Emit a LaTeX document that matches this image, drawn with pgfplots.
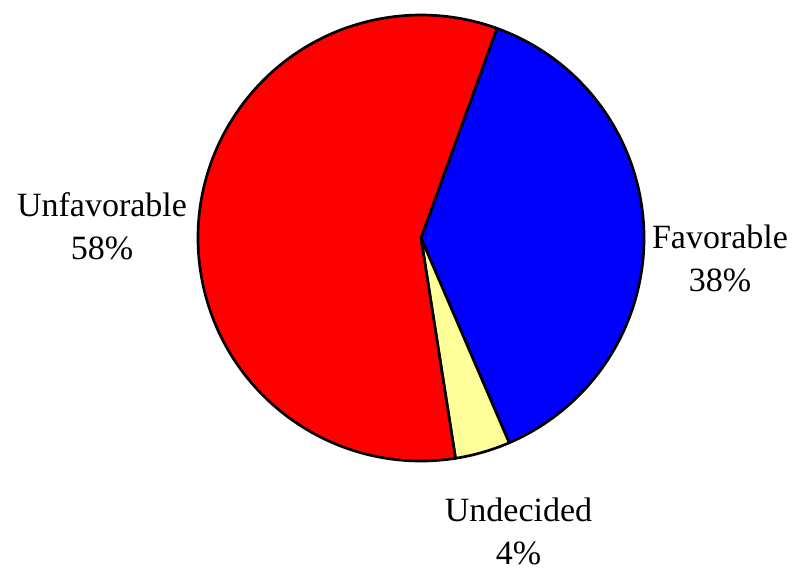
\documentclass[border=0pt]{standalone}
\usepackage{pgfplots}
\usepackage{pgfplotstable}
\pgfplotsset{compat=1.18}
\usepackage{fontspec}
\setmainfont{Liberation Serif}

\pgfplotstableread{
label value
Favorable 38
Undecided 4
Unfavorable 58
}\piedata

\pgfplotstablegetelem{0}{value}\of\piedata \let\vA\pgfplotsretval
\pgfplotstablegetelem{1}{value}\of\piedata \let\vB\pgfplotsretval
\pgfplotstablegetelem{2}{value}\of\piedata \let\vC\pgfplotsretval
\pgfmathsetmacro\aS{70.1}
\pgfmathsetmacro\aA{\aS-3.6*\vA}
\pgfmathsetmacro\aB{\aA-3.6*\vB}
\pgfmathsetmacro\aC{\aB-3.6*\vC}

\definecolor{pieyellow}{RGB}{255,255,153}

\begin{document}
\begin{tikzpicture}
\begin{axis}[
  hide axis,
  x=0.75pt, y=0.75pt,
  xmin=0, xmax=797, ymin=0, ymax=571,
  clip=false,
  font=\fontsize{25.5}{31}\selectfont,
]
\path (axis cs:0,0) rectangle (axis cs:797,571);
\def\R{167.25pt}
\filldraw[fill=blue, draw=black, line width=2pt, line join=round]
  (axis cs:421,333) -- ++(\aS:\R) arc[start angle=\aS, end angle=\aA, radius=\R] -- cycle;
\filldraw[fill=pieyellow, draw=black, line width=2pt, line join=round]
  (axis cs:421,333) -- ++(\aA:\R) arc[start angle=\aA, end angle=\aB, radius=\R] -- cycle;
\filldraw[fill=red, draw=black, line width=2pt, line join=round]
  (axis cs:421,333) -- ++(\aB:\R) arc[start angle=\aB, end angle=\aC, radius=\R] -- cycle;

\node[anchor=base] at (axis cs:720,322) {Favorable};
\node[anchor=base] at (axis cs:720,279) {38\%};
\node[anchor=base] at (axis cs:518.5,49) {Undecided};
\node[anchor=base] at (axis cs:518.5,6) {4\%};
\node[anchor=base] at (axis cs:102,354) {Unfavorable};
\node[anchor=base] at (axis cs:102,311) {58\%};
\end{axis}
\end{tikzpicture}
\end{document}
